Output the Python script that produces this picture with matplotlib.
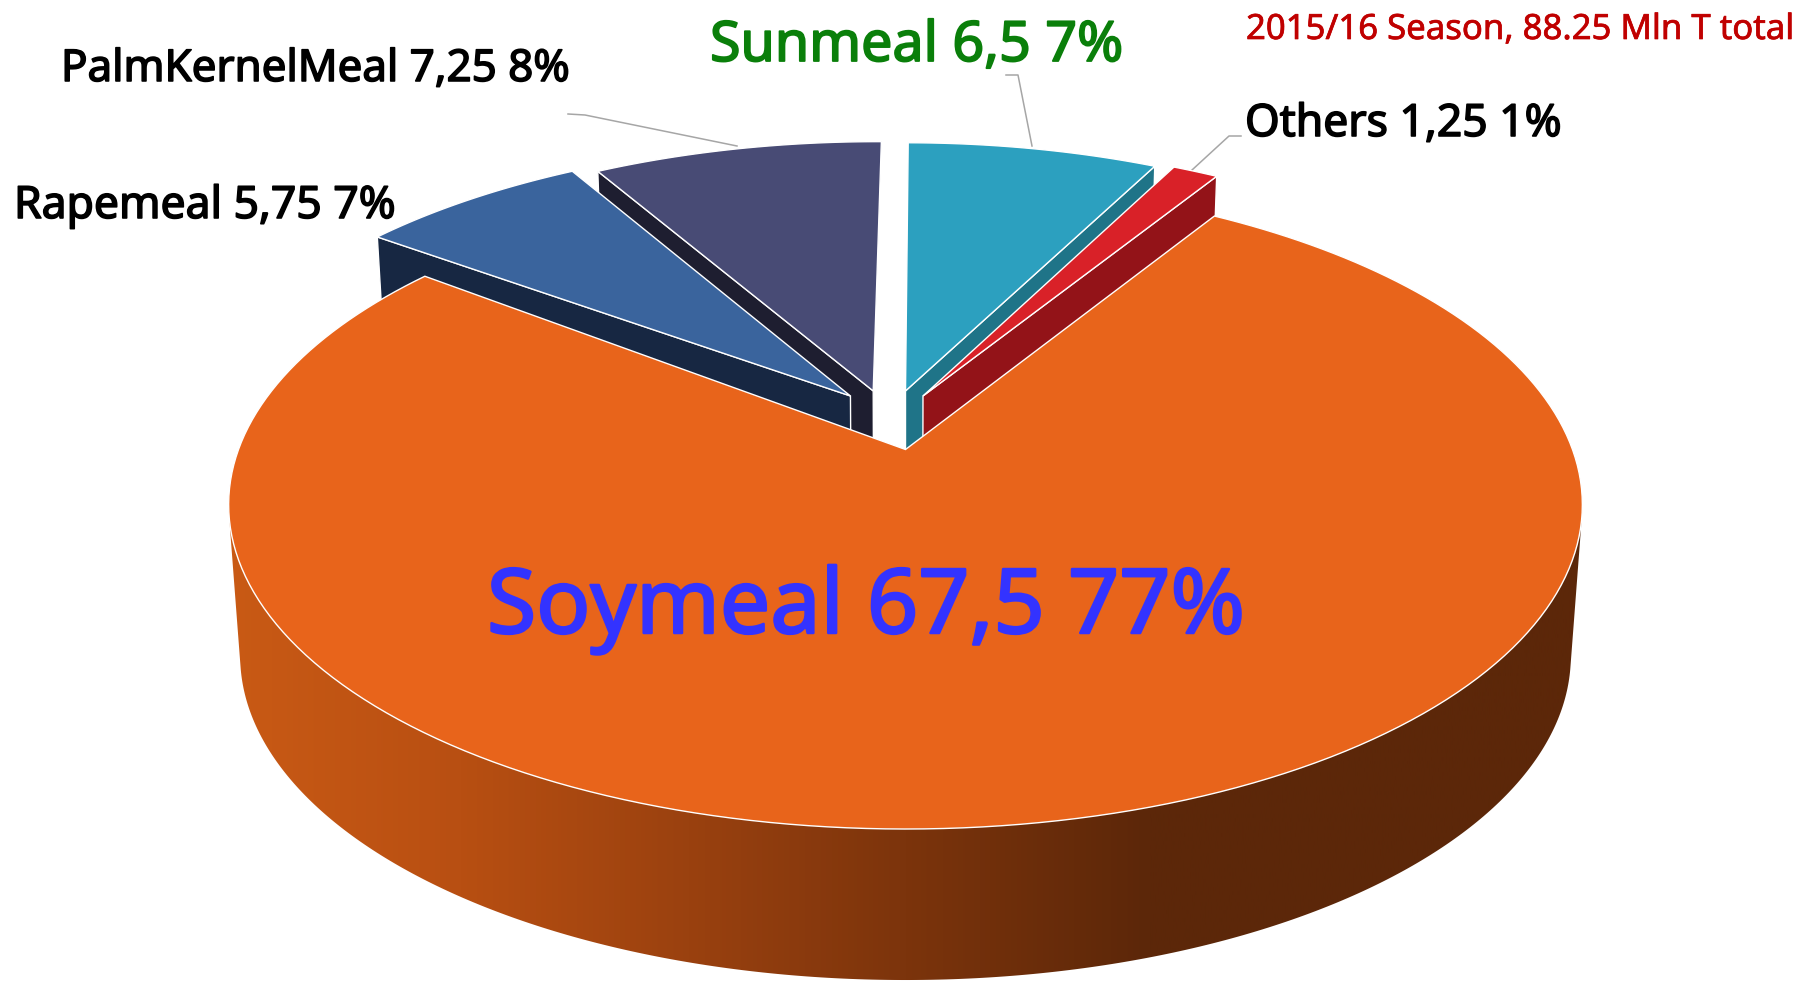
import numpy as np
import matplotlib
matplotlib.use('Agg')
import matplotlib.pyplot as plt
import matplotlib.patheffects as pe
from matplotlib.colors import LinearSegmentedColormap
from matplotlib.patches import Polygon

# values in Mln T, counter clockwise starting at the right edge of the big slice
names = ['Others', 'Sunmeal', 'PalmKernelMeal', 'Rapemeal', 'Soymeal']
values = [1.25, 6.5, 7.25, 5.75, 67.5]
value_labels = ['1,25', '6,5', '7,25', '5,75', '67,5']
percents = ['1%', '7%', '8%', '7%', '77%']
title = '2015/16 Season, 88.25 Mln T total'

top_colors = ['#d92128', '#2ca0bf', '#484b75', '#3a649d', '#e8641b']
side_colors = ['#931318', '#1f7488', '#1e1e30', '#172742', None]
# how the slices are pulled out, in disk units
explode = [(0.027, 0.175), (0.0, 0.192), (-0.05, 0.192), (-0.085, 0.175), (0, 0)]
radius = [0.99, 0.975, 0.98, 1.0, 1.0]
# small corrections of the two edges of each slice, degrees
tilt_first = [0.3, 0.0, 0.0, 1.0, 0.0]
tilt_last = [0.0, 0.1, 1.0, 1.4, 0.0]
# pixel layout of the labels: x, baseline y, size, colour
label_style = [(1245, 136, 32, 'black'), (710, 61, 40, '#0a7f0a'), (61, 81, 31.6, 'black'),
               (14, 218, 32, 'black'), (487, 633, 64.5, '#3333ff')]
leaders = [[(1241, 136), (1229, 136), (1192, 170)],
           [(1006, 75), (1018, 75), (1032, 146)],
           [(568, 114), (585, 115), (737, 146)]]

START = 58.0
CX, CY = 905.5, 449.5
R, H, P = 667.0, 315.0, 0.17
DROP = 151.0
SHRINK = 0.983

plt.rcParams['font.family'] = ['Noto Sans', 'DejaVu Sans']


def project(u, v, bottom=False):
    den = 1 + P * v
    if bottom:
        return CX + SHRINK * R * u / den, CY + DROP - H * v / den
    return CX + R * u / den, CY - H * v / den


def hull(pts):
    pts = sorted(set(map(tuple, pts)))
    def half(seq):
        out = []
        for p in seq:
            while len(out) > 1 and (out[-1][0] - out[-2][0]) * (p[1] - out[-2][1]) - (out[-1][1] - out[-2][1]) * (p[0] - out[-2][0]) <= 0:
                out.pop()
            out.append(p)
        return out[:-1]
    return half(pts) + half(pts[::-1])


fig = plt.figure(figsize=(17.98, 9.81), dpi=100)
ax = fig.add_axes([0, 0, 1, 1])
ax.axis('off')

angles = START + np.cumsum([0] + values) / sum(values) * 360
wedges = []
for i in range(len(values)):
    th = np.radians(np.linspace(angles[i] + tilt_first[i], angles[i + 1] + tilt_last[i], 200))
    du, dv = explode[i]
    u = radius[i] * np.cos(th) + du
    v = radius[i] * np.sin(th) + dv
    wedges.append((u, v, du, dv))


def draw_slice(i, side, z):
    u, v, du, dv = wedges[i]
    tx, ty = project(u, v)
    ax_, ay_ = project(du, dv)
    bx, by = project(u, v, bottom=True)
    bx0, by0 = project(du, dv, bottom=True)
    if side is not None:
        k = 0 if side == 'first' else -1
        quad = [(ax_, ay_), (tx[k], ty[k]), (bx[k], by[k]), (bx0, by0)]
        ax.add_patch(Polygon(quad, closed=True, fc=side_colors[i], ec='white', lw=1.0, zorder=z))
    pts = [(ax_, ay_)] + list(zip(tx, ty))
    ax.add_patch(Polygon(pts, closed=True, fc=top_colors[i], ec='white', lw=1.0, zorder=z + 0.1))


# back slices first, the neighbour in front paints over their side faces
for i, side, z in [(2, 'last', 2), (3, 'last', 3), (1, 'first', 2), (0, 'first', 3)]:
    draw_slice(i, side, z)

# side of the big slice with its left to right shading
front = np.radians(np.linspace(190, 350, 300))
ftx, fty = project(np.cos(front), np.sin(front))
fbx, fby = project(np.cos(front), np.sin(front), bottom=True)
shell = hull(list(zip(ftx, fty)) + list(zip(fbx, fby)))
shade = LinearSegmentedColormap.from_list('shade', [(0, '#c95a15'), (0.17, '#b84f12'), (0.34, '#9a410f'),
                                                    (0.5, '#7c340c'), (0.68, '#5c2709'), (1, '#5c2709')])
img = ax.imshow(np.linspace(0, 1, 512).reshape(1, -1), cmap=shade, extent=(229, 1582, 981, 0),
                aspect='auto', zorder=4)
clip = Polygon(shell, closed=True, fc='none', ec='none', transform=ax.transData)
ax.add_patch(clip)
img.set_clip_path(clip)

draw_slice(4, None, 5)

for line in leaders:
    ax.plot(*zip(*line), color='#a6a6a6', lw=1.1, zorder=0.5)

for n, val, pct, (x, y, size, col) in zip(names, value_labels, percents, label_style):
    t = ax.text(x, y, f'{n} {val} {pct}', fontsize=size, color=col, ha='left', va='baseline', zorder=6)
    t.set_path_effects([pe.withStroke(linewidth=0.5 + size * 0.02, foreground=col)])
t = ax.text(1246, 39, title, fontsize=25, color='#c00000', ha='left', va='baseline', zorder=6)
t.set_path_effects([pe.withStroke(linewidth=0.5, foreground='#c00000')])

ax.set_xlim(0, 1798)
ax.set_ylim(981, 0)
fig.savefig('out.png', dpi=100, facecolor='white')
